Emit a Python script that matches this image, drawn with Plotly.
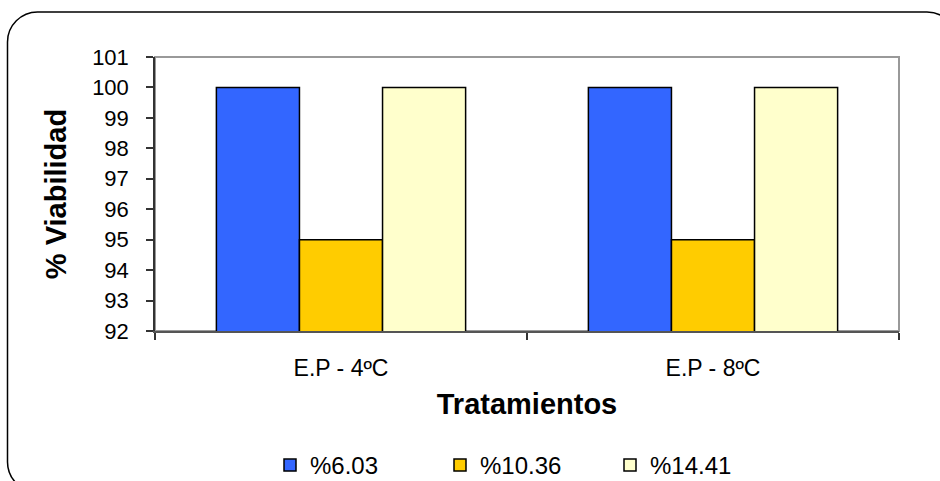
import plotly.graph_objects as go

# Treatments on the x axis and viability (%) per moisture level
tratamientos = ["E.P - 4ºC", "E.P - 8ºC"]
series_names = ["%6.03", "%10.36", "%14.41"]
viab_603 = [100, 100]
viab_1036 = [95, 95]
viab_1441 = [100, 100]
y_ticks = [92, 93, 94, 95, 96, 97, 98, 99, 100, 101]

colors = ["#3366FF", "#FFCC00", "#FFFFCC"]
series_values = [viab_603, viab_1036, viab_1441]

W, H = 940, 481
ML, MR, MT, MB = 155, 41, 57, 150
PW, PH = W - ML - MR, H - MT - MB

FONT = "Liberation Sans, Arial, sans-serif"

fig = go.Figure()
for name, vals, col in zip(series_names, series_values, colors):
    fig.add_trace(go.Bar(
        x=tratamientos, y=vals, name=name,
        marker=dict(color=col, line=dict(color="#000000", width=1.5)),
    ))


def px(x, y):
    """Pixel position on the page -> paper coordinates."""
    return (x - ML) / PW, (H - MB - y) / PH


def rounded_path(x0, y0, x1, y1, r):
    k = 0.55 * r

    def P(x, y):
        a, b = px(x, y)
        return f"{a:.5f},{b:.5f}"
    d = f"M{P(x0, y0 + r)} "
    d += f"C{P(x0, y0 + r - k)} {P(x0 + r - k, y0)} {P(x0 + r, y0)} "
    d += f"L{P(x1 - r, y0)} "
    d += f"C{P(x1 - r + k, y0)} {P(x1, y0 + r - k)} {P(x1, y0 + r)} "
    d += f"L{P(x1, y1 - r)} "
    d += f"C{P(x1, y1 - r + k)} {P(x1 - r + k, y1)} {P(x1 - r, y1)} "
    d += f"L{P(x0 + r, y1)} "
    d += f"C{P(x0 + r - k, y1)} {P(x0, y1 - r + k)} {P(x0, y1 - r)} Z"
    return d


shapes = [
    # outer rounded chart frame
    dict(type="path", xref="paper", yref="paper",
         path=rounded_path(7.5, 12, 957, 492, 30),
         line=dict(color="#000000", width=1.5), layer="below"),
    # plot area frame (top and right edges)
    dict(type="rect", xref="paper", yref="paper", x0=0, y0=0, x1=1, y1=1,
         line=dict(color="#999999", width=2), layer="below"),
]

leg_x, leg_y = px(270, 443)

fig.update_layout(
    width=W, height=H,
    margin=dict(l=ML, r=MR, t=MT, b=MB, autoexpand=False),
    paper_bgcolor="white", plot_bgcolor="white",
    font=dict(family=FONT, color="#000000"),
    barmode="group", bargap=0.33, bargroupgap=0,
    showlegend=True,
    legend=dict(orientation="h", x=leg_x, xanchor="left", y=leg_y, yanchor="top",
                font=dict(size=24, family=FONT), entrywidth=125,
                traceorder="normal", bgcolor="rgba(0,0,0,0)"),
    shapes=shapes,
    xaxis=dict(
        type="category", tickson="boundaries", ticks="outside", ticklen=7,
        tickcolor="#333333", tickwidth=1.5,
        showline=True, linecolor="#555555", linewidth=2,
        tickfont=dict(size=23, family=FONT), ticklabelstandoff=15,
        title=dict(text="<b>Tratamientos</b>", font=dict(size=29, family=FONT),
                   standoff=14),
        showgrid=False, zeroline=False,
    ),
    yaxis=dict(
        range=[92, 101], tickmode="array", tickvals=y_ticks,
        ticktext=[str(v) for v in y_ticks],
        ticks="outside", ticklen=7, tickcolor="#333333", tickwidth=1.5,
        showline=True, linecolor="#333333", linewidth=1.5,
        tickfont=dict(size=22, family=FONT), ticklabelstandoff=13,
        title=dict(text="<b>% Viabilidad</b>", font=dict(size=29, family=FONT),
                   standoff=17),
        showgrid=False, zeroline=False,
    ),
)

fig.write_html("out.html")
